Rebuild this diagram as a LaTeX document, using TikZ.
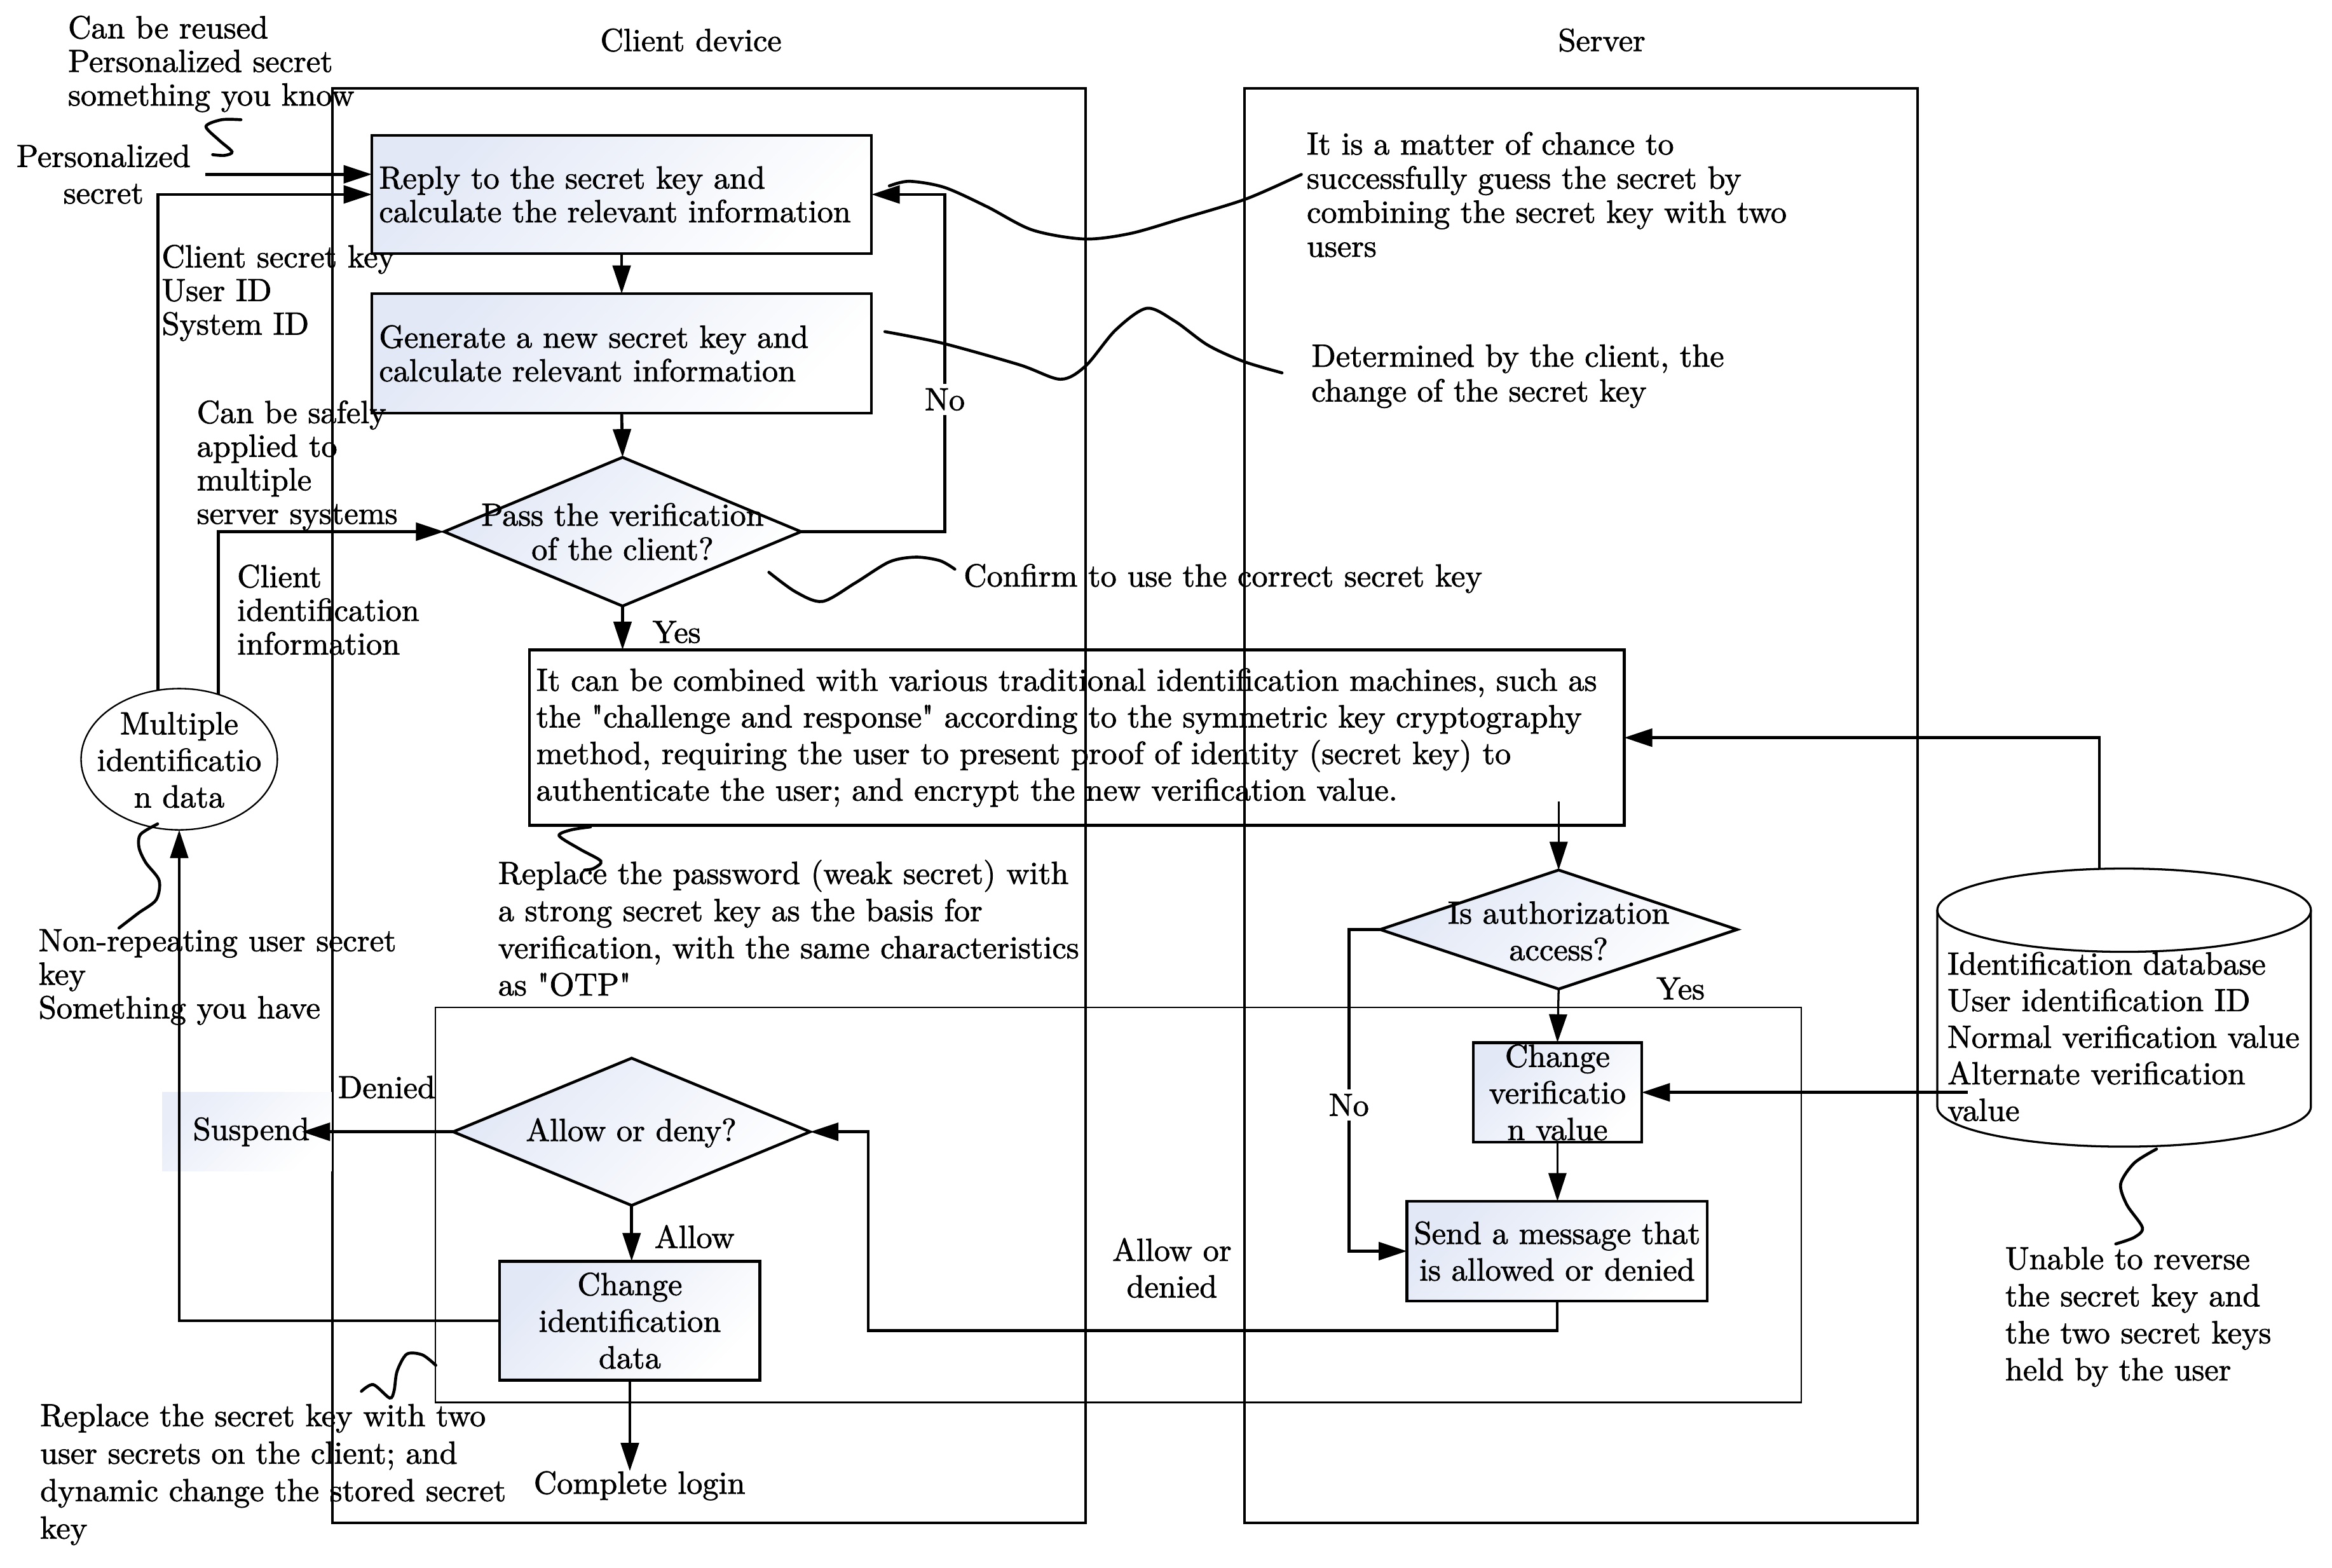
\documentclass[tikz,border=0pt]{standalone}
\usepackage{fontspec}
\setmainfont{lmroman10-regular.otf}[FakeBold=1.5]
\usetikzlibrary{arrows.meta,shapes.geometric,calc}
\definecolor{shadeblue}{RGB}{226,232,246}
\begin{document}
\begin{tikzpicture}[x=1pt,y=-1pt,
  every node/.style={font=\fontsize{21.5}{24.6}\selectfont, inner sep=0pt, outer sep=0pt},
  tight/.style={font=\fontsize{21.5}{22.6}\selectfont},
  gshade/.style={top color=shadeblue, bottom color=white, shading angle=45},
  procbox/.style={rectangle, draw, line width=1.9pt, gshade},
  dia/.style={diamond, draw, line width=1.9pt, gshade, minimum width=240pt},
  conn/.style={line width=2pt},
  arr/.style={line width=2pt, -{Triangle[length=19pt,width=12pt]}},
  thinarr/.style={line width=1.4pt, -{Triangle[length=19pt,width=12pt]}},
  lane/.style={line width=1.7pt},
  lbl/.style={fill=white, inner sep=3pt},
  note/.style={align=left, anchor=west},
  squig/.style={line width=2pt, line cap=round}]
\useasboundingbox (0,0) rectangle (1568,1054);

% lanes
\draw[lane] (223.5,59.6) rectangle (730,1024);
\draw[lane] (836.8,59.6) rectangle (1289.3,1024);
\draw[line width=1pt] (292.7,677.5) rectangle (1211,943);

% titles
\node (tclient) at (464.6,27) {Client device};
\node (tserver) at (1077,27) {Server};

% client process nodes
\node[procbox, minimum width=336pt, minimum height=79.5pt, text width=326.2pt, inner xsep=4.9pt, align=left, tight] (reply) at (418,130.75) {Reply to the secret key and\\calculate the relevant information};
\node[procbox, minimum width=336pt, minimum height=80.3pt, text width=326.2pt, inner xsep=4.9pt, align=left, tight] (gen) at (418,237.65) {Generate a new secret key and\\calculate relevant information};
\node[dia, minimum height=100pt] (pass) at (418.6,357.5) {};
\node[align=center, font=\fontsize{21.5}{23}\selectfont] (passtxt) at (418.6,357.5) {Pass the verification\\of the client?};
\node[rectangle, draw, line width=2pt, minimum width=736pt, minimum height=118pt, text width=726.8pt, inner xsep=4.6pt, align=left] (big) at (724,496) {\mbox{It can be combined with various traditional identification machines, such as}\\\mbox{the \textquotedbl challenge and response\textquotedbl\ according to the symmetric key cryptography}\\\mbox{method, requiring the user to present proof of identity (secret key) to}\\\mbox{authenticate the user; and encrypt the new verification value.}};

% server nodes
\node[dia, minimum height=80pt] (auth) at (1048,625) {};
\node[align=center] (authtxt) at (1048,626) {Is authorization\\access?};
\node[procbox, minimum width=113.2pt, minimum height=67pt, align=center] (chv) at (1047.2,734.5) {Change\\verificatio\\n value};
\node[procbox, minimum width=202pt, minimum height=67pt, align=center] (send) at (1047,841.25) {Send a message that\\is allowed or denied};

% lower client nodes
\node[dia, minimum height=99pt] (allow) at (424.7,761) {};
\node (allowtxt) at (424.4,761.7) {Allow or deny?};
\node[procbox, minimum width=175pt, minimum height=80pt, align=center] (chid) at (423.5,888) {Change\\identification\\data};
\node[rectangle, top color=shadeblue!80, bottom color=white, shading angle=45, minimum width=114pt, minimum height=53pt] (susp) at (166,761) {\hspace*{6pt}Suspend};
\node (login) at (430,999) {Complete login};

% identification data ellipse
\node[ellipse, draw, line width=1pt, fill=white, minimum width=132pt, minimum height=95pt] (ell) at (120.5,510.5) {};
\node[align=center] (elltxt) at (120.5,511) {Multiple\\identificatio\\n data};

% database cylinder
\draw[line width=1.4pt] (1428.2,612) ellipse [x radius=125.6, y radius=28];
\draw[line width=1.4pt] (1302.6,612) -- (1302.6,744) arc[start angle=180, end angle=0, x radius=125.6, y radius=27] -- (1553.8,612);
\node[note] (dbtxt) at (1309.5,697) {Identification database\\User identification ID\\Normal verification value\\Alternate verification\\value};
\coordinate (dbtop) at (1411.6,584.2);
\coordinate (dbin) at (1323,734.5);

% side notes
\node[note, tight] (nreuse) at (45.8,43) {Can be reused\\Personalized secret\\something you know};
\node[align=center] (pers) at (69.6,117.2) {Personalized\\secret};
\node[note, tight] (ncskey) at (108.8,197) {Client secret key\\User ID\\System ID};
\node[note, tight] (nsafe) at (132.4,313) {Can be safely\\applied to\\multiple\\server systems};
\node[note, tight] (ncid) at (159.5,410) {Client\\identification\\information};
\node[note, tight] (nnonrep) at (26,657) {Non-repeating user secret\\key\\Something you have};
\node[note, font=\fontsize{21.5}{25.2}\selectfont] (nreplkey) at (27,991.5) {Replace the secret key with two\\user secrets on the client; and\\dynamic change the stored secret\\key};
\node[note, font=\fontsize{21.5}{25}\selectfont] (nreplpw) at (335,624) {Replace the password (weak secret) with\\a strong secret key as the basis for\\verification, with the same characteristics\\as \textquotedbl OTP\textquotedbl};
\node[note] (nconfirm) at (648,389) {Confirm to use the correct secret key};
\node[note, font=\fontsize{21.5}{22.9}\selectfont] (nchance) at (878.7,130.8) {It is a matter of chance to\\successfully guess the secret by\\combining the secret key with two\\users};
\node[note, font=\fontsize{21.5}{23.4}\selectfont] (ndeterm) at (881.8,253) {Determined by the client, the\\change of the secret key};
\node[note, font=\fontsize{21.5}{24.9}\selectfont] (nunable) at (1348.3,885.5) {Unable to reverse\\the secret key and\\the two secret keys\\held by the user};

% turning points
\coordinate (noturn) at (635.3,357.5);
\coordinate (nturn) at (907,625);
\coordinate (rturn) at (583.8,894.8);

% connectors
\draw[arr] ([xshift=10pt]pers.east) -- (pers.east -| reply.west);
\draw[arr] (ell.107.7) |- (reply.west);
\draw[arr] (ell.59.6) |- (pass.west);
\draw[arr] (chid.west) -| (ell.south);
\draw[arr] (reply.south) -- (gen.north);
\draw[arr] (gen.south) -- (pass.north);
\draw[arr] (pass.south) -- (pass.south |- big.north);
\draw[arr] (pass.east) -- (noturn) |- (reply.east);
\draw[thinarr] ([yshift=16pt]big.south -| auth.north) -- (auth.north);
\draw[thinarr] (auth.south) -- (chv.north);
\draw[thinarr] (chv.south) -- (chv.south |- send.north);
\draw[arr] (auth.west) -- (nturn) |- (send.west);
\draw[arr] (dbtop) |- (big.east);
\draw[arr] (dbin) -- (chv.east);
\draw[arr] (send.south) |- (rturn) |- (allow.east);
\draw[arr] (allow.south) -- (allow.south |- chid.north);
\draw[arr] (allow.west) -- ([xshift=-20pt]susp.east);
\draw[arr] (chid.south) -- (chid.south |- login.north);

% connector labels
\node[lbl] (lno1) at (635.3,268.6) {No};
\node (lyes1) at (455,425) {Yes};
\node (lyes2) at (1130,664.7) {Yes};
\node[lbl] (lno2) at (907,743) {No};
\node (lden) at (260,731) {Denied};
\node (lallow) at (467,831.5) {Allow};
\node[align=center] (laod) at (788,852.5) {Allow or\\denied};

% callout squiggles
\draw[squig] plot[smooth] coordinates {(162,80.5) (149,80.5) (138.5,85) (147,94) (156,102) (151,104.5) (143,104)};
\draw[squig] plot[smooth] coordinates {(598,125) (611.4,121.9) (635,126) (663.7,139) (694,154.6) (729,160.7) (760,157) (794.6,147) (838,133.7) (875,117.3)};
\draw[squig] plot[smooth] coordinates {(595,223) (633,230.6) (685.5,245.3) (713,255) (730,246) (750,222) (771,207.3) (790,216) (812,232) (836,243) (862,250.7)};
\draw[squig] plot[smooth] coordinates {(517,384.8) (535,398) (553,404.4) (575,392) (598,377.8) (615.8,374.6) (632,377) (642,382.7)};
\draw[squig] plot[smooth] coordinates {(397,556) (384,558) (376,562) (390,571) (404,579) (399,584) (393,585)};
\draw[squig] plot[smooth] coordinates {(106,554) (94.5,561) (93.5,570) (98,580) (107,592) (105,605) (93,614) (80,624)};
\draw[squig] plot[smooth] coordinates {(293,918) (284,911) (273.5,910.5) (267,922) (265,935) (262,940) (251,931) (243,935.5)};
\draw[squig] plot[smooth] coordinates {(1450,772.6) (1435,782) (1425.9,796) (1430,810) (1440.5,825.4) (1435,832) (1422.6,836.4)};
\end{tikzpicture}
\end{document}
